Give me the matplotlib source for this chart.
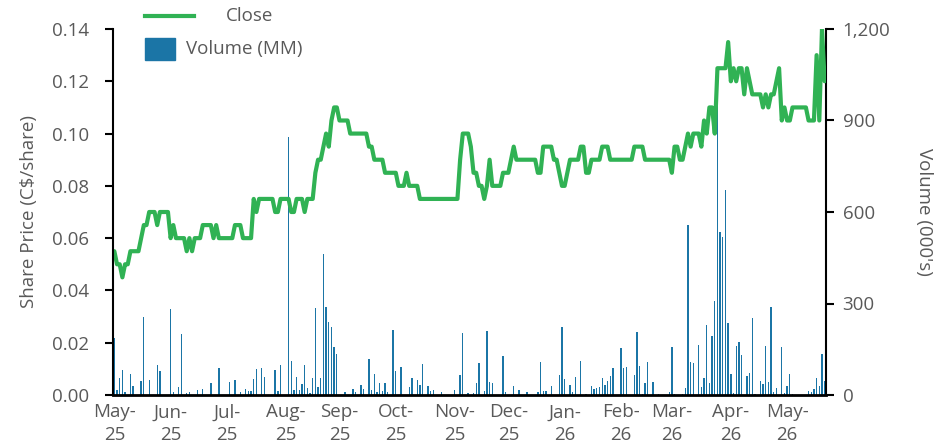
import numpy as np
import pandas as pd
import matplotlib
matplotlib.use("Agg")
import matplotlib.pyplot as plt
from matplotlib.lines import Line2D
from matplotlib.patches import Rectangle
from matplotlib.ticker import FuncFormatter, MultipleLocator

plt.rcParams["font.family"] = ["Open Sans", "DejaVu Sans"]

GREEN = "#30b254"
BLUE = "#1b75a6"
GREY = "#595959"

# TSX trading days, May 1 2025 - May 22 2026
HOLIDAYS = ["2025-05-19", "2025-07-01", "2025-08-04", "2025-09-01", "2025-10-13",
            "2025-12-25", "2025-12-26", "2026-01-01", "2026-02-16", "2026-04-03",
            "2026-05-18"]

# daily close (C$/share), one row per month
close = [
    0.055, 0.05, 0.05, 0.045, 0.05, 0.05, 0.055, 0.055, 0.055, 0.055, 0.06, 0.065, 0.065, 0.07, 0.07, 0.07, 0.065, 0.07, 0.07, 0.07, 0.07,
    0.06, 0.065, 0.06, 0.06, 0.06, 0.06, 0.055, 0.06, 0.055, 0.06, 0.06, 0.06, 0.065, 0.065, 0.065, 0.065, 0.06, 0.065, 0.06, 0.06, 0.06,
    0.06, 0.06, 0.06, 0.065, 0.065, 0.065, 0.06, 0.06, 0.06, 0.06, 0.075, 0.07, 0.075, 0.075, 0.075, 0.075, 0.075, 0.075, 0.07, 0.07, 0.075, 0.075,
    0.075, 0.075, 0.07, 0.07, 0.075, 0.075, 0.075, 0.07, 0.075, 0.075, 0.075, 0.085, 0.09, 0.09, 0.095, 0.10, 0.095, 0.105, 0.11, 0.11,
    0.105, 0.105, 0.105, 0.105, 0.10, 0.10, 0.10, 0.10, 0.10, 0.10, 0.10, 0.095, 0.095, 0.09, 0.09, 0.09, 0.09, 0.085, 0.085, 0.085, 0.085,
    0.085, 0.08, 0.08, 0.08, 0.085, 0.08, 0.08, 0.08, 0.08, 0.075, 0.075, 0.075, 0.075, 0.075, 0.075, 0.075, 0.075, 0.075, 0.075, 0.075, 0.075, 0.075,
    0.075, 0.075, 0.09, 0.10, 0.10, 0.10, 0.095, 0.085, 0.085, 0.08, 0.08, 0.075, 0.08, 0.09, 0.08, 0.08, 0.08, 0.08, 0.085, 0.085,
    0.085, 0.09, 0.095, 0.09, 0.09, 0.09, 0.09, 0.09, 0.09, 0.09, 0.09, 0.085, 0.085, 0.095, 0.095, 0.095, 0.095, 0.09, 0.09, 0.085, 0.08,
    0.08, 0.085, 0.09, 0.09, 0.09, 0.09, 0.095, 0.095, 0.085, 0.085, 0.09, 0.09, 0.09, 0.09, 0.095, 0.095, 0.095, 0.09, 0.09, 0.09, 0.09,
    0.09, 0.09, 0.09, 0.09, 0.09, 0.095, 0.095, 0.095, 0.095, 0.09, 0.09, 0.09, 0.09, 0.09, 0.09, 0.09, 0.09, 0.09, 0.09,
    0.085, 0.095, 0.095, 0.09, 0.09, 0.095, 0.10, 0.095, 0.10, 0.10, 0.10, 0.095, 0.105, 0.10, 0.11, 0.11, 0.10, 0.125, 0.125, 0.125, 0.125, 0.135,
    0.12, 0.125, 0.12, 0.125, 0.125, 0.115, 0.125, 0.12, 0.115, 0.115, 0.115, 0.115, 0.11, 0.115, 0.11, 0.115, 0.115, 0.12, 0.125, 0.105, 0.11,
    0.105, 0.105, 0.11, 0.11, 0.11, 0.11, 0.11, 0.11, 0.105, 0.105, 0.105, 0.13, 0.105, 0.14, 0.12,
]

# daily volume (000's), one row per month
volume = [
    186, 16, 55, 82, 11, 0, 69, 30, 0, 0, 46, 255, 0, 49, 0, 0, 98, 80, 0, 0, 0,
    282, 11, 0, 25, 199, 0, 5, 9, 0, 0, 16, 0, 20, 0, 0, 40, 0, 0, 87, 0, 0,
    0, 43, 0, 49, 0, 11, 0, 19, 13, 14, 51, 85, 0, 88, 60, 0, 0, 0, 82, 14, 98, 0,
    0, 846, 110, 16, 60, 16, 35, 98, 22, 7, 57, 285, 25, 55, 461, 288, 238, 222, 158, 134,
    0, 0, 9, 0, 0, 20, 9, 0, 33, 20, 0, 117, 16, 69, 10, 38, 14, 40, 10, 0, 213,
    79, 0, 93, 0, 0, 26, 55, 0, 49, 33, 101, 0, 28, 13, 15, 0, 0, 9, 0, 0, 0, 0,
    18, 0, 64, 202, 0, 7, 0, 8, 38, 104, 0, 13, 210, 43, 38, 0, 0, 0, 127, 11,
    0, 0, 30, 0, 15, 0, 0, 10, 0, 0, 0, 10, 107, 13, 13, 0, 30, 0, 0, 66, 222,
    51, 0, 33, 10, 59, 0, 110, 0, 2, 0, 30, 20, 22, 26, 55, 32, 47, 62, 87, 0, 0,
    153, 87, 91, 0, 0, 67, 205, 96, 3, 38, 107, 0, 42, 0, 4, 0, 0, 0, 9,
    157, 3, 0, 0, 3, 22, 558, 107, 105, 0, 163, 25, 55, 230, 40, 195, 309, 1000, 535, 519, 672, 235,
    68, 7, 161, 173, 130, 0, 63, 73, 251, 3, 0, 46, 36, 161, 42, 287, 10, 24, 0, 156, 7,
    29, 68, 3, 0, 0, 0, 0, 0, 14, 10, 20, 56, 31, 134, 46,
]

dates = pd.bdate_range("2025-05-01", "2026-05-22", freq="C", holidays=HOLIDAYS)
x = np.arange(len(dates))

# month labels sit on the first trading day of each month
month_start = [i for i in range(len(dates)) if i == 0 or dates[i].month != dates[i - 1].month]
month_labels = [dates[i].strftime("%b-\n%y") for i in month_start]

fig = plt.figure(figsize=(9.35, 4.45), dpi=100)
ax = fig.add_axes([113 / 935, 50 / 445, 713 / 935, 366 / 445])
ax_vol = ax.twinx()
ax.set_zorder(ax_vol.get_zorder() + 1)
ax.patch.set_visible(False)

ax_vol.bar(x, volume, width=0.5, color=BLUE)
ax.plot(x, close, color=GREEN, lw=3, solid_joinstyle="round", solid_capstyle="round")

ax.set_xlim(-0.5, len(dates) - 0.5)
ax.set_ylim(0, 0.14)
ax_vol.set_ylim(0, 1200)
ax.yaxis.set_major_locator(MultipleLocator(0.02))
ax.yaxis.set_major_formatter(FuncFormatter(lambda v, p: f"{v:.2f}"))
ax_vol.yaxis.set_major_locator(MultipleLocator(300))
ax_vol.yaxis.set_major_formatter(FuncFormatter(lambda v, p: f"{v:,.0f}"))

ax.set_xticks(month_start)
ax.set_xticklabels(month_labels, linespacing=1.3)

for a in (ax, ax_vol):
    a.spines["top"].set_visible(False)
ax.spines["right"].set_visible(False)
ax.spines["left"].set_linewidth(1.5)
ax.spines["bottom"].set_linewidth(2)
ax_vol.spines["left"].set_visible(False)
ax_vol.spines["bottom"].set_visible(False)
ax_vol.spines["right"].set_linewidth(1.5)

ax.tick_params(axis="x", length=0, pad=6, labelsize=13.5, labelcolor=GREY)
ax.tick_params(axis="y", length=6, width=1.5, pad=11, labelsize=13.5, labelcolor=GREY)
ax_vol.tick_params(axis="y", length=6, width=1.5, pad=6, labelsize=13.5, labelcolor=GREY)

ax.set_ylabel(r"Share Price (C\$/share)", fontsize=13.5, color=GREY, labelpad=10)
ax_vol.set_ylabel("Volume (000's)", fontsize=13.5, color=GREY, rotation=270, labelpad=31)

# legend in the top-left corner
fig.add_artist(Line2D([145 / 935, 194 / 935], [1 - 16 / 445] * 2, transform=fig.transFigure,
                      color=GREEN, lw=3))
fig.text(250 / 935, 1 - 16 / 445, "Close", ha="center", va="center", fontsize=13.5, color=GREY)
fig.add_artist(Rectangle((145 / 935, 1 - 60 / 445), 30 / 935, 22 / 445,
                         transform=fig.transFigure, color=BLUE))
fig.text(186 / 935, 1 - 49 / 445, "Volume (MM)", ha="left", va="center", fontsize=13.5, color=GREY)

fig.savefig("out.png", dpi=100)
